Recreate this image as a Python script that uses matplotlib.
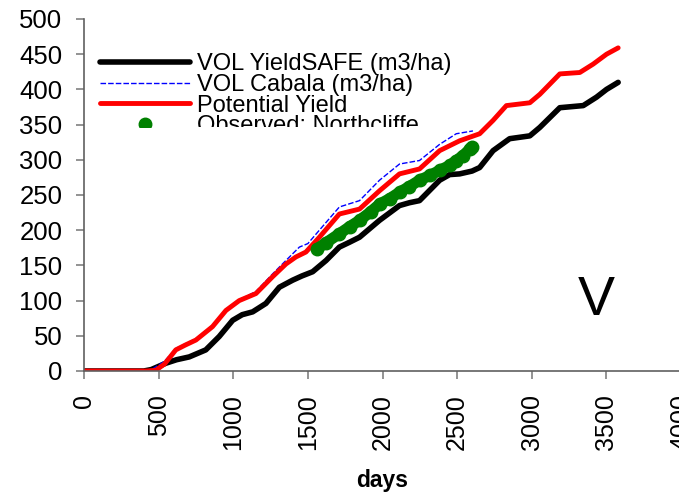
import matplotlib
matplotlib.use("Agg")
import matplotlib.pyplot as plt
from matplotlib.transforms import Bbox, TransformedBbox

plt.rcParams['font.family'] = ['Liberation Sans', 'DejaVu Sans']

# VOL YieldSAFE (m3/ha)
ys_days = [0, 400, 450, 548, 620, 705, 816, 906, 996, 1060, 1130, 1219, 1309, 1398, 1460, 1532,
           1622, 1711, 1780, 1846, 1980, 2114, 2180, 2248, 2383, 2450, 2517, 2600, 2651, 2741,
           2852, 2987, 3054, 3188, 3345, 3434, 3501, 3579]
ys_vol = [0, 0, 2, 11, 16, 20, 30, 49, 72, 80, 84, 96, 119, 129, 135, 141,
          157, 176, 183, 190, 214, 235, 239, 242, 271, 279, 280, 284, 289, 313,
          330, 334, 346, 374, 377, 389, 400, 410]

# VOL Cabala (m3/ha)
cab_days = [0, 400, 460, 540, 615, 750, 861, 951, 1040, 1152, 1264, 1353, 1443, 1500, 1577,
            1711, 1846, 1980, 2114, 2248, 2383, 2494, 2606]
cab_vol = [0, 0, 3, 14, 32, 46, 65, 88, 101, 113, 138, 157, 176, 181, 200,
           233, 242, 271, 294, 299, 322, 337, 341]

# Potential Yield
pot_days = [0, 420, 481, 540, 615, 680, 750, 861, 951, 1040, 1152, 1264, 1353, 1420, 1487,
            1577, 1711, 1846, 1980, 2114, 2248, 2383, 2517, 2651, 2741, 2830, 2987, 3054,
            3188, 3322, 3412, 3501, 3579]
pot_vol = [0, 0, 1, 10, 30, 37, 44, 63, 86, 100, 110, 134, 152, 162, 169,
           190, 223, 230, 256, 280, 287, 313, 327, 337, 356, 377, 381, 393,
           422, 424, 436, 450, 459]

# Observed: Northcliffe
obs_days = [1564, 1620, 1711, 1780, 1846, 1920, 1980, 2050, 2114, 2180, 2248, 2320, 2383,
            2450, 2494, 2540, 2584, 2600]
obs_vol = [174, 182, 195, 205, 214, 226, 237, 245, 254, 262, 271, 278, 285,
           292, 299, 306, 315, 318]

fig = plt.figure(figsize=(6.79, 4.96), dpi=100)
ax = fig.add_axes([84 / 679, 125 / 496, 597 / 679, 352 / 496])

ax.plot(ys_days, ys_vol, color='black', lw=4, solid_capstyle='round',
        label='VOL YieldSAFE (m3/ha)')
ax.plot(cab_days, cab_vol, color='blue', lw=1, dashes=(4, 1.5),
        label='VOL Cabala (m3/ha)')
ax.plot(pot_days, pot_vol, color='red', lw=3.5, solid_capstyle='round',
        label='Potential Yield')
ax.plot(obs_days, obs_vol, color='green', lw=8, solid_capstyle='round')
ax.plot(obs_days, obs_vol, 'o', color='green', ms=9, label='Observed: Northcliffe')

ax.set_xlim(0, 4000)
ax.set_ylim(0, 500)
ax.set_xticks(range(0, 4001, 500))
ax.set_yticks(range(0, 501, 50))

for s in ['top', 'right']:
    ax.spines[s].set_visible(False)
for s in ['left', 'bottom']:
    ax.spines[s].set_color('#606060')
    ax.spines[s].set_linewidth(1.2)
ax.tick_params(axis='both', direction='out', length=5.5, width=1.2, color='#808080')
ax.tick_params(axis='x', labelrotation=90, pad=11, labelsize=18)
ax.tick_params(axis='y', pad=10, labelsize=18.5)

ax.set_xlabel('days', fontsize=16.5, fontweight='bold')
ax.xaxis.set_label_coords(0.5, -0.278)

ax.text(3430, 100, 'V', fontsize=40, ha='center', va='center')

leg = ax.legend(loc='upper left', bbox_to_anchor=(100 / 679, 1 - 53 / 496),
                bbox_transform=fig.transFigure, frameon=False, fontsize=17,
                borderpad=0, borderaxespad=0, labelspacing=-0.05,
                handlelength=3.8, handletextpad=0.3)

# the legend is cut off at the bottom in the original
clip = TransformedBbox(Bbox([[0, 369 / 496], [1, 1]]), fig.transFigure)
for a in leg.findobj():
    a.set_clip_box(clip)
    a.set_clip_on(True)

fig.savefig('out.png', dpi=100)
